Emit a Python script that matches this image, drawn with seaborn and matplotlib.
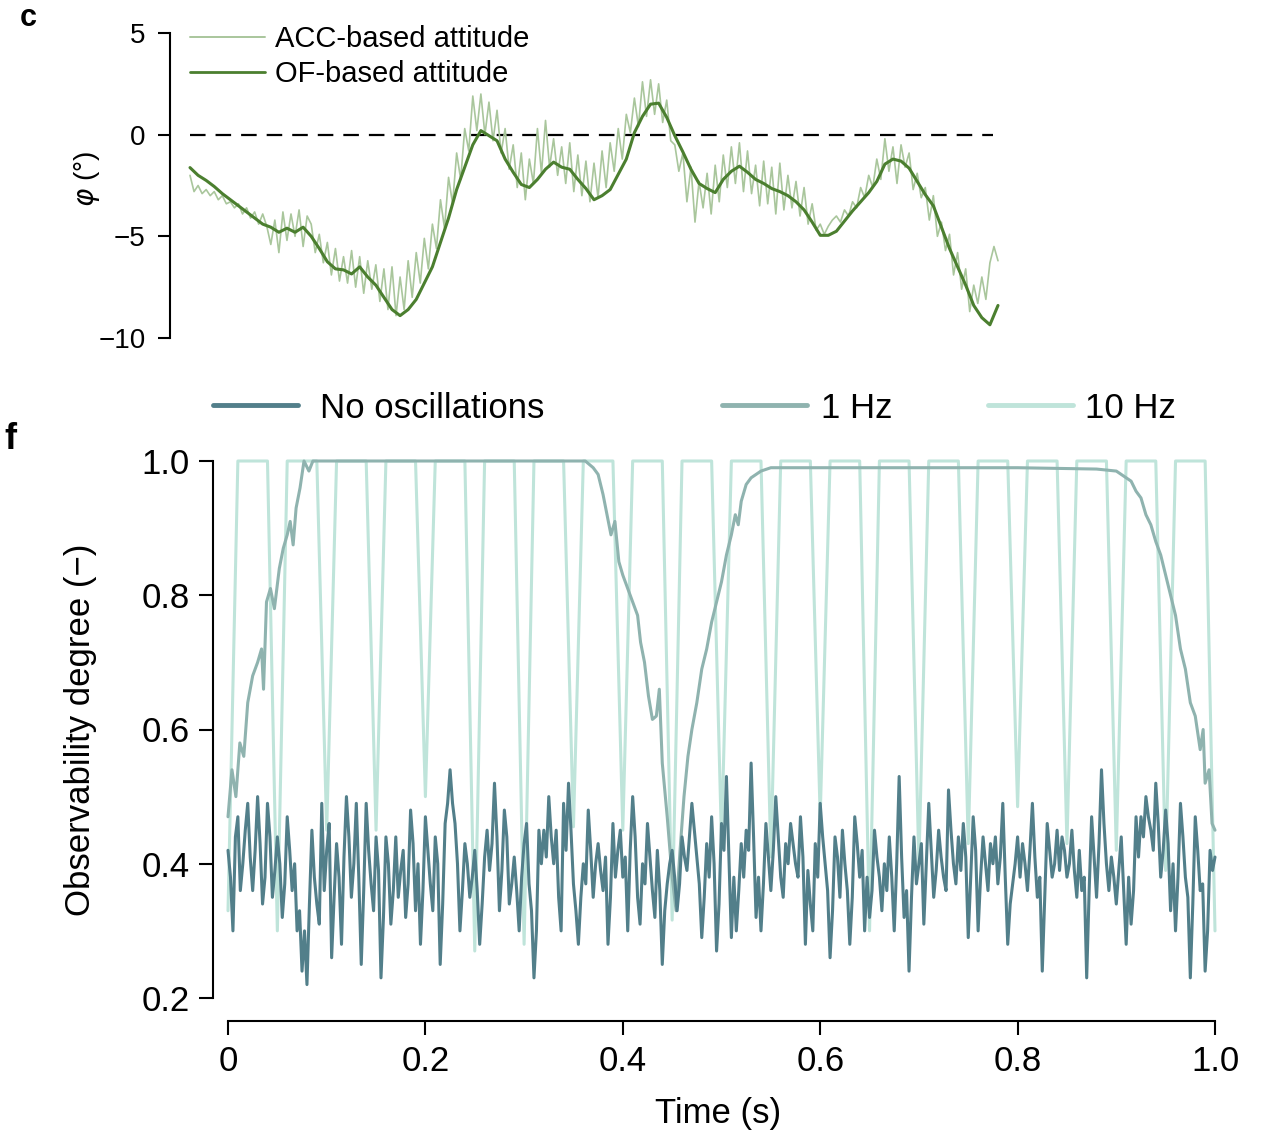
import numpy as np
import matplotlib
matplotlib.use('Agg')
import matplotlib.pyplot as plt
from matplotlib.lines import Line2D
import seaborn as sns

# ---- panel c: roll attitude (deg), equally spaced samples over the flight segment
of_attitude = [
    -1.62, -2.0, -2.25, -2.55, -2.9, -3.2, -3.5, -3.8, -4.1, -4.4,
    -4.55, -4.8, -4.6, -4.8, -4.55, -5.0, -5.6, -6.25, -6.6, -6.65,
    -6.85, -6.5, -7.0, -7.4, -8.0, -8.6, -8.9, -8.6, -8.1, -7.3,
    -6.5, -5.3, -4.1, -2.7, -1.6, -0.5, 0.2, -0.05, -0.3, -1.2,
    -1.85, -2.45, -2.6, -2.2, -1.7, -1.35, -1.6, -1.7, -2.2, -2.65,
    -3.2, -3.0, -2.7, -1.95, -1.2, 0.1, 0.9, 1.5, 1.55, 0.85,
    -0.05, -0.85, -1.7, -2.4, -2.65, -2.85, -2.2, -1.8, -1.55, -1.85,
    -2.2, -2.4, -2.65, -2.8, -3.0, -3.3, -3.7, -4.3, -4.95, -4.95,
    -4.75, -4.25, -3.75, -3.3, -2.85, -2.3, -1.45, -1.2, -1.3, -1.65,
    -2.3, -2.95, -3.5, -4.55, -5.6, -6.5, -7.4, -8.4, -9.0, -9.35,
    -8.4]

acc_attitude = [
    -2.0, -2.8, -2.5, -2.9, -2.7, -3.0, -2.8, -3.2, -3.0, -3.4,
    -3.3, -3.6, -3.4, -3.9, -3.6, -4.1, -3.8, -4.4, -3.9, -4.5,
    -5.4, -4.2, -5.8, -3.8, -5.2, -3.9, -5.0, -3.7, -5.5, -4.0,
    -4.4, -5.8, -4.9, -6.3, -5.3, -6.9, -5.6, -7.2, -6.0, -7.3,
    -5.7, -7.5, -6.0, -7.8, -6.2, -7.6, -6.4, -8.2, -6.6, -8.6,
    -6.5, -8.9, -7.0, -8.6, -6.2, -8.0, -5.8, -7.3, -5.1, -6.6,
    -4.4, -5.6, -3.2, -4.6, -2.1, -3.4, -0.9, -2.2, 0.3, -0.8,
    1.9, 0.2, 2.0, 0.0, 1.6, -0.3, 1.2, -0.9, 0.3, -1.7,
    -0.5, -2.6, -0.9, -3.2, -1.2, -2.4, 0.3, -1.9, 0.7, -1.6,
    -0.2, -2.0, -0.6, -2.4, -0.4, -2.8, -1.0, -3.0, -1.3, -3.3,
    -1.4, -3.1, -0.8, -2.6, -0.4, -1.8, 0.3, -1.2, 1.0, 0.1,
    1.8, 0.4, 2.6, 0.9, 2.7, 1.0, 2.5, 0.6, 1.7, -0.3,
    -0.5, -1.8, -0.9, -3.3, -1.6, -4.3, -2.3, -3.6, -1.9, -3.9,
    -1.5, -3.3, -1.0, -2.6, -0.6, -2.4, -0.4, -2.8, -0.8, -2.9,
    -1.5, -3.5, -1.3, -3.4, -1.6, -3.9, -1.4, -3.7, -2.0, -3.6,
    -2.3, -4.0, -2.6, -4.4, -3.4, -4.7, -4.4, -4.9, -4.5, -4.2,
    -4.0, -4.3, -3.7, -4.0, -3.3, -3.6, -2.6, -3.1, -2.0, -2.6,
    -1.2, -2.2, -0.2, -1.8, -0.6, -2.4, -0.5, -1.6, -0.9, -2.7,
    -1.9, -3.1, -2.6, -4.2, -3.0, -5.0, -4.3, -5.7, -4.9, -6.9,
    -5.8, -7.6, -6.6, -8.7, -7.4, -8.3, -7.0, -8.1, -6.3, -5.5, -6.2]

c_yticks = [-10, -5, 0, 5]

# ---- panel f: observability degree vs time (no oscillations, 2.5 ms samples)
obs_none = [
    0.42, 0.38, 0.30, 0.44, 0.47, 0.36, 0.40, 0.45, 0.49, 0.41,
    0.36, 0.42, 0.50, 0.43, 0.34, 0.38, 0.49, 0.44, 0.35, 0.39,
    0.44, 0.40, 0.32, 0.37, 0.47, 0.42, 0.36, 0.40, 0.30, 0.33,
    0.24, 0.30, 0.22, 0.34, 0.45, 0.38, 0.34, 0.31, 0.49, 0.36,
    0.42, 0.46, 0.26, 0.35, 0.43, 0.38, 0.28, 0.41, 0.50, 0.44,
    0.35, 0.40, 0.49, 0.38, 0.25, 0.36, 0.49, 0.42, 0.37, 0.33,
    0.44, 0.39, 0.23, 0.32, 0.44, 0.40, 0.31, 0.36, 0.44, 0.35,
    0.39, 0.42, 0.32, 0.37, 0.48, 0.43, 0.33, 0.40, 0.28, 0.36,
    0.47, 0.42, 0.37, 0.33, 0.44, 0.40, 0.25, 0.34, 0.46, 0.49,
    0.54, 0.49, 0.46, 0.40, 0.30, 0.36, 0.43, 0.40, 0.35, 0.38,
    0.42, 0.36, 0.28, 0.34, 0.41, 0.45, 0.39, 0.43, 0.52, 0.44,
    0.33, 0.39, 0.48, 0.44, 0.34, 0.37, 0.41, 0.36, 0.30, 0.38,
    0.43, 0.46, 0.37, 0.33, 0.23, 0.30, 0.45, 0.40,
    0.45, 0.41, 0.50, 0.44, 0.40, 0.45, 0.35, 0.30, 0.49, 0.42,
    0.52, 0.45, 0.37, 0.33, 0.28, 0.35, 0.40, 0.37, 0.48, 0.42,
    0.35, 0.40, 0.43, 0.39, 0.36, 0.41, 0.28, 0.35, 0.46, 0.38,
    0.42, 0.45, 0.38, 0.41, 0.30, 0.42, 0.50, 0.44, 0.35, 0.31,
    0.40, 0.37, 0.46, 0.41, 0.36, 0.32, 0.42, 0.36, 0.25, 0.33,
    0.37, 0.40, 0.42, 0.38, 0.33, 0.37, 0.44, 0.41, 0.39, 0.44,
    0.49, 0.45, 0.41, 0.37, 0.29, 0.35, 0.43, 0.38, 0.47, 0.40,
    0.27, 0.34, 0.46, 0.42, 0.53, 0.41, 0.29, 0.38, 0.30, 0.36,
    0.43, 0.38, 0.45, 0.42, 0.55, 0.44, 0.32, 0.38, 0.30, 0.37,
    0.46, 0.41, 0.36, 0.42, 0.50, 0.44, 0.38, 0.35, 0.43, 0.40,
    0.46, 0.43, 0.40, 0.38, 0.47, 0.41, 0.28, 0.39, 0.34, 0.30,
    0.43, 0.38, 0.49, 0.44, 0.40, 0.36, 0.26, 0.33, 0.44, 0.41,
    0.35, 0.45, 0.40, 0.36, 0.28, 0.35, 0.47, 0.43, 0.38, 0.42,
    0.30, 0.38, 0.32, 0.36, 0.45, 0.41, 0.38, 0.33,
    0.40, 0.36, 0.44, 0.38, 0.30, 0.40, 0.53, 0.41, 0.32, 0.36,
    0.24, 0.35, 0.44, 0.37, 0.40, 0.43, 0.31, 0.40, 0.49, 0.42,
    0.35, 0.39, 0.45, 0.41, 0.38, 0.36, 0.51, 0.45, 0.40, 0.37,
    0.44, 0.39, 0.46, 0.41, 0.29, 0.38, 0.47, 0.42, 0.30, 0.38,
    0.44, 0.40, 0.36, 0.43, 0.40, 0.44, 0.37, 0.41, 0.49, 0.38,
    0.28, 0.34, 0.37, 0.40, 0.44, 0.38, 0.43, 0.40, 0.36, 0.42,
    0.49, 0.41, 0.35, 0.38, 0.24, 0.35, 0.46, 0.42, 0.38, 0.40,
    0.45, 0.39, 0.44, 0.42, 0.38, 0.40, 0.45, 0.39, 0.35, 0.42,
    0.36, 0.38, 0.23, 0.36, 0.47, 0.41, 0.35, 0.43, 0.54, 0.46,
    0.40, 0.36, 0.41, 0.38, 0.34, 0.39, 0.44, 0.36, 0.28, 0.38,
    0.31, 0.36, 0.47, 0.41, 0.47, 0.44, 0.50, 0.47, 0.45, 0.42,
    0.52, 0.46, 0.38, 0.42, 0.48, 0.43, 0.33, 0.40, 0.30, 0.38,
    0.49, 0.44, 0.38, 0.35, 0.23, 0.34, 0.47, 0.42, 0.36, 0.37,
    0.24, 0.30, 0.42, 0.39, 0.41]

# 10 Hz oscillation, sampled every 10 ms
obs_10hz = [
    0.33, 1.0, 1.0, 1.0, 1.0, 0.30, 1.0, 1.0, 1.0, 1.0,
    0.45, 1.0, 1.0, 1.0, 1.0, 0.45, 1.0, 1.0, 1.0, 1.0,
    0.50, 1.0, 1.0, 1.0, 1.0, 0.27, 1.0, 1.0, 1.0, 1.0,
    0.28, 1.0, 1.0, 1.0, 1.0, 0.455, 1.0, 1.0, 1.0, 1.0,
    0.45, 1.0, 1.0, 1.0, 1.0, 0.316, 1.0, 1.0, 1.0, 1.0,
    0.435, 1.0, 1.0, 1.0, 1.0, 0.41, 1.0, 1.0, 1.0, 1.0,
    0.47, 1.0, 1.0, 1.0, 1.0, 0.30, 1.0, 1.0, 1.0, 1.0,
    0.40, 1.0, 1.0, 1.0, 1.0, 0.43, 1.0, 1.0, 1.0, 1.0,
    0.485, 1.0, 1.0, 1.0, 1.0, 0.43, 1.0, 1.0, 1.0, 1.0,
    0.42, 1.0, 1.0, 1.0, 1.0, 0.39, 1.0, 1.0, 1.0, 1.0,
    0.30]

# 1 Hz oscillation (irregular sampling of the read-off curve)
t_1hz = [0.000, 0.004, 0.008, 0.012, 0.016, 0.020, 0.025, 0.030, 0.034, 0.036,
         0.039, 0.043, 0.047, 0.052, 0.056, 0.060, 0.063, 0.066, 0.069, 0.073,
         0.077, 0.082, 0.086, 0.100, 0.200, 0.300, 0.355, 0.362, 0.370, 0.375,
         0.380, 0.384, 0.388, 0.392, 0.396, 0.400, 0.405, 0.410, 0.415, 0.418,
         0.422, 0.426, 0.430, 0.434, 0.437, 0.440, 0.445, 0.450, 0.454, 0.458,
         0.462, 0.466, 0.470, 0.475, 0.480, 0.485, 0.490, 0.495, 0.500, 0.505,
         0.510, 0.514, 0.517, 0.520, 0.525, 0.530, 0.540, 0.550, 0.600, 0.700,
         0.800, 0.880, 0.900, 0.905, 0.910, 0.915, 0.920, 0.925, 0.930, 0.935,
         0.940, 0.945, 0.950, 0.955, 0.960, 0.965, 0.970, 0.975, 0.980, 0.985,
         0.988, 0.990, 0.994, 0.997, 1.000]
obs_1hz = [0.47, 0.54, 0.50, 0.58, 0.56, 0.64, 0.68, 0.70, 0.72, 0.66,
           0.79, 0.81, 0.78, 0.84, 0.87, 0.89, 0.91, 0.875, 0.93, 0.96,
           1.0, 0.985, 1.0, 1.0, 1.0, 1.0, 1.0, 1.0, 0.99, 0.98,
           0.95, 0.92, 0.89, 0.91, 0.85, 0.83, 0.81, 0.79, 0.77, 0.73,
           0.70, 0.65, 0.615, 0.62, 0.66, 0.55, 0.47, 0.38, 0.33, 0.42,
           0.50, 0.56, 0.60, 0.64, 0.69, 0.72, 0.76, 0.79, 0.82, 0.86,
           0.89, 0.92, 0.905, 0.94, 0.965, 0.975, 0.985, 0.99, 0.99, 0.99,
           0.99, 0.988, 0.985, 0.98, 0.975, 0.97, 0.955, 0.945, 0.92, 0.905,
           0.88, 0.86, 0.83, 0.80, 0.77, 0.72, 0.69, 0.64, 0.62, 0.57,
           0.60, 0.52, 0.54, 0.46, 0.45]

f_yticks = [0.2, 0.4, 0.6, 0.8, 1.0]
f_xticks = [0, 0.2, 0.4, 0.6, 0.8, 1.0]
f_xticklabels = ['0', '0.2', '0.4', '0.6', '0.8', '1.0']

col_acc = '#a9c69c'
col_of = '#4b7f2f'
col_none = '#527f8a'
col_1hz = '#8fb3af'
col_10hz = '#bfe4da'

sns.set_style('ticks')
plt.rcParams['font.family'] = ['Liberation Sans', 'DejaVu Sans']
plt.rcParams.update({'axes.linewidth': 1.5, 'text.color': 'black',
                     'axes.labelcolor': 'black', 'axes.edgecolor': 'black',
                     'xtick.color': 'black', 'ytick.color': 'black'})

W, H = 1270, 1136
fig = plt.figure(figsize=(W / 100, H / 100), dpi=100)


def box(l, t, r, b):
    return [l / W, 1 - b / H, (r - l) / W, (b - t) / H]


# ---------------- panel c
ax_c = fig.add_axes(box(170, 33, 1000, 338))
t_of = np.linspace(0, 1, len(of_attitude))
t_acc = np.linspace(0, 1, len(acc_attitude))
ax_c.hlines(0, t_of[0], t_of[-1] - 0.006, colors='black', linewidth=1.6,
            linestyles=(0, (7, 4.5)))
sns.lineplot(x=t_acc, y=acc_attitude, ax=ax_c, color=col_acc, linewidth=1.2,
             estimator=None, sort=False)
sns.lineplot(x=t_of, y=of_attitude, ax=ax_c, color=col_of, linewidth=2.2,
             estimator=None, sort=False)
ax_c.set_xlim(-20 / 808, 810 / 808)
ax_c.set_ylim(-10, 5)
ax_c.set_yticks(c_yticks)
ax_c.set_xticks([])
for s in ['top', 'right', 'bottom']:
    ax_c.spines[s].set_visible(False)
ax_c.spines['left'].set_bounds(-10, 5)
ax_c.tick_params(axis='y', length=8.5, width=1.5, labelsize=20, pad=9)
ax_c.set_ylabel(r'$\varphi$ (°)', fontsize=20)
ax_c.yaxis.set_label_coords(-0.082, 0.52)
ax_c.legend(handles=[Line2D([], [], color=col_acc, lw=1.4),
                     Line2D([], [], color=col_of, lw=2.0)],
            labels=['ACC-based attitude', 'OF-based attitude'],
            loc='upper left', bbox_to_anchor=(190 / W, 1 - 25 / H),
            bbox_transform=fig.transFigure, frameon=False, fontsize=21,
            handlelength=2.57, handletextpad=0.34, borderpad=0,
            borderaxespad=0, labelspacing=0.24)

# ---------------- panel f
ax_f = fig.add_axes(box(213, 461, 1215, 1021))
t_none = np.linspace(0, 1, len(obs_none))
t_10hz = np.linspace(0, 1, len(obs_10hz))
sns.lineplot(x=t_10hz, y=obs_10hz, ax=ax_f, color=col_10hz, linewidth=2.2,
             estimator=None, sort=False)
sns.lineplot(x=t_1hz, y=obs_1hz, ax=ax_f, color=col_1hz, linewidth=2.2,
             estimator=None, sort=False)
sns.lineplot(x=t_none, y=obs_none, ax=ax_f, color=col_none, linewidth=2.2,
             estimator=None, sort=False)
for ln in ax_f.lines:
    ln.set_clip_on(False)
ax_f.set_xlim(-15 / 987, 1.0)
ax_f.set_ylim(0.2 - 23 / 671.25, 1.0)
ax_f.set_yticks(f_yticks)
ax_f.set_yticklabels([f'{v:.1f}' for v in f_yticks])
ax_f.set_xticks(f_xticks)
ax_f.set_xticklabels(f_xticklabels)
for s in ['top', 'right']:
    ax_f.spines[s].set_visible(False)
ax_f.spines['left'].set_bounds(0.2, 1.0)
ax_f.spines['bottom'].set_bounds(0, 1.0)
ax_f.tick_params(length=10, width=1.5, labelsize=25, pad=7)
ax_f.set_ylabel('Observability degree (−)', fontsize=25)
ax_f.yaxis.set_label_coords(-0.116, 0.52)
ax_f.set_xlabel('Time (s)', fontsize=25)
ax_f.xaxis.set_label_coords(0.504, -0.135)

leg_entries = [('No oscillations', col_none, 213, 0.63),
               ('1 Hz', col_1hz, 722, 0.40),
               ('10 Hz', col_10hz, 988, 0.34)]
for label, col, xpx, pad in leg_entries:
    fig.legend(handles=[Line2D([], [], color=col, lw=3.5)], labels=[label],
               loc='center left', bbox_to_anchor=(xpx / W, 1 - 408 / H),
               bbox_transform=fig.transFigure, frameon=False, fontsize=25,
               handlelength=2.45, handletextpad=pad, borderpad=0,
               borderaxespad=0)

fig.text(28 / W, 1 - 18 / H, 'c', fontsize=22, fontweight='bold',
         ha='center', va='center')
fig.text(10 / W, 1 - 440 / H, 'f', fontsize=26, fontweight='bold',
         ha='center', va='center')

fig.savefig('out.png', dpi=100)
